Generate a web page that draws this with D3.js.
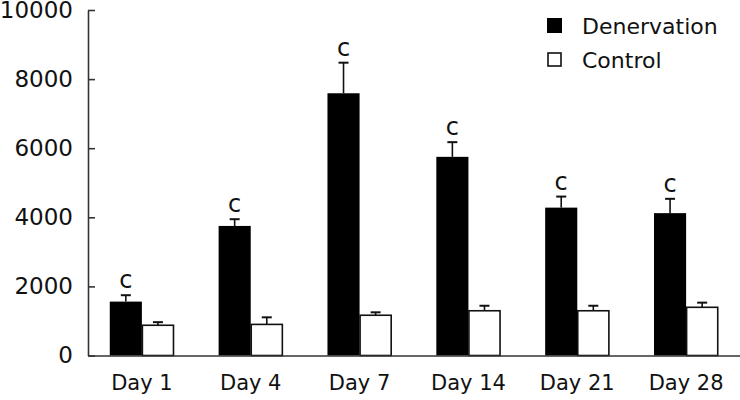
<!DOCTYPE html>
<html>
<head>
<meta charset="utf-8">
<script src="https://cdn.jsdelivr.net/npm/d3@7"></script>
<style>
  body { margin: 0; background: #fff; }
  svg { display: block; font-family: "DejaVu Sans", sans-serif; }
</style>
</head>
<body>
<svg></svg>
<script>
var days = ["Day 1", "Day 4", "Day 7", "Day 14", "Day 21", "Day 28"];
var denervation = [1560, 3750, 7590, 5750, 4280, 4120];
var denervationErr = [185, 195, 885, 425, 320, 415];
var control = [875, 900, 1165, 1295, 1295, 1395];
var controlErr = [90, 205, 85, 145, 145, 135];
var marks = ["c", "c", "c", "c", "c", "c"];
var series = ["Denervation", "Control"];
var yTicks = [0, 2000, 4000, 6000, 8000, 10000];

function chart() {
    var width = 740,
        height = 400;

    var svg = d3.select("svg")
        .attr("width", width)
        .attr("height", height);
    svg.selectAll("*").remove();

    var x = d3.scaleBand().domain(days).range([88, 740])
        .paddingInner(0.41).paddingOuter(0.2);
    var x1 = d3.scaleBand().domain(series).range([0, x.bandwidth()]);
    var y = d3.scaleLinear().domain([0, 10000]).range([355.5, 10]);

    var rows = days.map(function(d, i) {
        return {day: d, mark: marks[i], vals: [
            {s: "Denervation", v: denervation[i], e: denervationErr[i]},
            {s: "Control", v: control[i], e: controlErr[i]}
        ]};
    });

    var group = svg.selectAll(".grp")
        .data(rows)
        .enter().append("g")
        .attr("class", "grp")
        .attr("transform", function(d) { return "translate(" + x(d.day) + ",0)"; });

    var bar = group.selectAll(".bar")
        .data(function(d) { return d.vals; })
        .enter().append("g");

    // error bars (upper only)
    bar.append("line")
        .attr("x1", function(d) { return x1(d.s) + x1.bandwidth() / 2; })
        .attr("x2", function(d) { return x1(d.s) + x1.bandwidth() / 2; })
        .attr("y1", function(d) { return y(d.v); })
        .attr("y2", function(d) { return y(d.v + d.e); })
        .attr("stroke", "#111").attr("stroke-width", 1.6);
    bar.append("line")
        .attr("x1", function(d) { return x1(d.s) + x1.bandwidth() / 2 - 5; })
        .attr("x2", function(d) { return x1(d.s) + x1.bandwidth() / 2 + 5; })
        .attr("y1", function(d) { return y(d.v + d.e); })
        .attr("y2", function(d) { return y(d.v + d.e); })
        .attr("stroke", "#111").attr("stroke-width", 2);

    bar.append("rect")
        .attr("x", function(d) { return x1(d.s) + (d.s == "Control" ? 0.5 : 0); })
        .attr("y", function(d) { return y(d.v); })
        .attr("width", function(d) { return x1.bandwidth() - (d.s == "Control" ? 1 : 0); })
        .attr("height", function(d) { return y(0) - y(d.v); })
        .attr("fill", function(d) { return d.s == "Control" ? "#fff" : "#000"; })
        .attr("stroke", function(d) { return d.s == "Control" ? "#111" : "none"; })
        .attr("stroke-width", 1.6);

    // significance letters
    group.append("text")
        .attr("x", function(d) { return x1("Denervation") + x1.bandwidth() / 2; })
        .attr("y", function(d) { return y(d.vals[0].v + d.vals[0].e) - 7; })
        .attr("text-anchor", "middle")
        .attr("font-size", 24)
        .attr("fill", "#111")
        .text(function(d) { return d.mark; });

    // axes
    var yAxis = d3.axisLeft(y).tickValues(yTicks)
        .tickSizeInner(-7).tickSizeOuter(0).tickPadding(15)
        .tickFormat(d3.format("d"));
    var gy = svg.append("g").attr("transform", "translate(88,0)").call(yAxis);
    gy.select(".domain").attr("stroke", "#333").attr("stroke-width", 1.6);
    gy.selectAll(".tick line").attr("stroke", "#333").attr("stroke-width", 1.6);
    gy.selectAll("text").attr("font-size", 23).attr("fill", "#111")
        .attr("font-family", "DejaVu Sans");

    var xAxis = d3.axisBottom(x).tickSize(0).tickPadding(20);
    var gx = svg.append("g").attr("transform", "translate(0,355.5)").call(xAxis);
    gx.select(".domain").attr("stroke", "#333").attr("stroke-width", 1.6);
    gx.selectAll("text").attr("font-size", 21).attr("fill", "#111")
        .attr("font-family", "DejaVu Sans");

    // legend
    var legend = svg.selectAll(".leg")
        .data(series)
        .enter().append("g")
        .attr("class", "leg")
        .attr("transform", function(d, i) { return "translate(547," + (18 + i * 34) + ")"; });
    legend.append("rect")
        .attr("x", function(d, i) { return i ? 1 : 0; })
        .attr("y", function(d, i) { return i ? 1 : 0; })
        .attr("width", function(d, i) { return i ? 13 : 15; })
        .attr("height", function(d, i) { return i ? 13 : 15; })
        .attr("fill", function(d, i) { return i ? "#fff" : "#000"; })
        .attr("stroke", function(d, i) { return i ? "#111" : "none"; })
        .attr("stroke-width", 1.6);
    legend.append("text")
        .attr("x", 35)
        .attr("y", 8)
        .attr("dy", "0.35em")
        .attr("font-size", 22)
        .attr("fill", "#111")
        .text(function(d) { return d; });
}

chart();
</script>
</body>
</html>
